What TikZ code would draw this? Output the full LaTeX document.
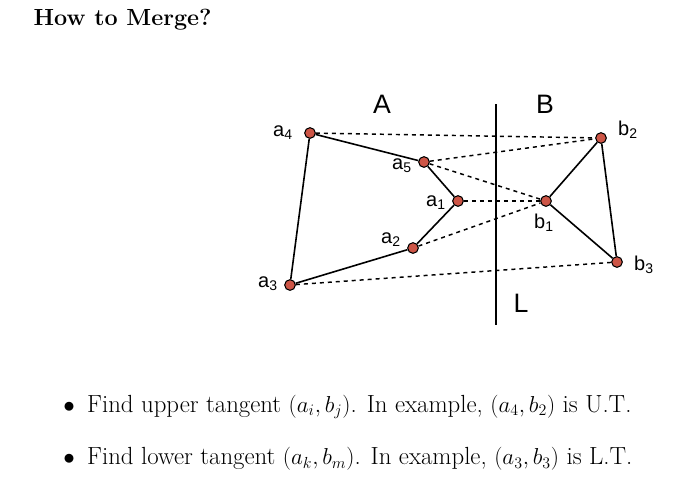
\documentclass[tikz,border=0pt]{standalone}
\usepackage{fontspec}
\newfontfamily\labfont{Liberation Sans}
\definecolor{ptred}{RGB}{205,85,70}
\tikzset{
  pt/.style={circle, draw=black, fill=ptred, inner sep=0pt, minimum size=8pt, thick},
  lab/.style={font=\labfont\fontsize{15}{15}\selectfont, inner sep=0pt},
  big/.style={font=\labfont\fontsize{20}{20}\selectfont, inner sep=0pt},
  edge/.style={line width=1.2pt},
  tang/.style={line width=1.1pt, dashed}
}
\begin{document}
\begin{tikzpicture}[x=0.75pt,y=-0.75pt]
        \useasboundingbox (0,0) rectangle (699,487);
        \node[anchor=west, font=\bfseries\fontsize{17.5}{17.5}\selectfont] (title) at (29,20) {How to Merge?};

        \node[pt] (a4) at (310,133) {};
        \node[pt] (a5) at (424,162) {};
        \node[pt] (a1) at (458,201) {};
        \node[pt] (a2) at (413,248) {};
        \node[pt] (a3) at (290,285) {};
        \node[pt] (b2) at (601,138) {};
        \node[pt] (b1) at (546,201) {};
        \node[pt] (b3) at (617,262) {};

        \coordinate (Ltop) at (496,104);
        \coordinate (Lbot) at (496,325);
        \draw[edge] (Ltop) -- (Lbot);

        % hulls
        \draw[edge] (a4) -- (a5) -- (a1) -- (a2) -- (a3) -- (a4);
        \draw[edge] (b2) -- (b1) -- (b3) -- (b2);

        % candidate tangents
        \draw[tang] (a4) -- (b2);
        \draw[tang] (a5) -- (b2);
        \draw[tang] (a5) -- (b1);
        \draw[tang] (a1) -- (b1);
        \draw[tang] (a2) -- (b1);
        \draw[tang] (a3) -- (b3);

        \node[big] (lA) at (382,104) {A};
        \node[big] (lB) at (545,104) {B};
        \node[big] (lL) at (521,303) {L};
        \node[lab] at (283,133) {a\textsubscript{4}};
        \node[lab] at (402,166) {a\textsubscript{5}};
        \node[lab] at (436,203) {a\textsubscript{1}};
        \node[lab] at (391,240) {a\textsubscript{2}};
        \node[lab] at (268,284) {a\textsubscript{3}};
        \node[lab] at (628,130) {b\textsubscript{2}};
        \node[lab] at (544,223) {b\textsubscript{1}};
        \node[lab] at (644,265) {b\textsubscript{3}};

        \node[anchor=west, font=\fontsize{18.6}{18.6}\selectfont, inner sep=0pt] (t1) at (63,407)
          {$\bullet$\enspace Find upper tangent $(a_i, b_j)$. In example, $(a_4, b_2)$ is U.T.};
        \node[anchor=west, font=\fontsize{18.6}{18.6}\selectfont, inner sep=0pt] (t2) at (63,459)
          {$\bullet$\enspace Find lower tangent $(a_k, b_m)$. In example, $(a_3, b_3)$ is L.T.};
\end{tikzpicture}
\end{document}
